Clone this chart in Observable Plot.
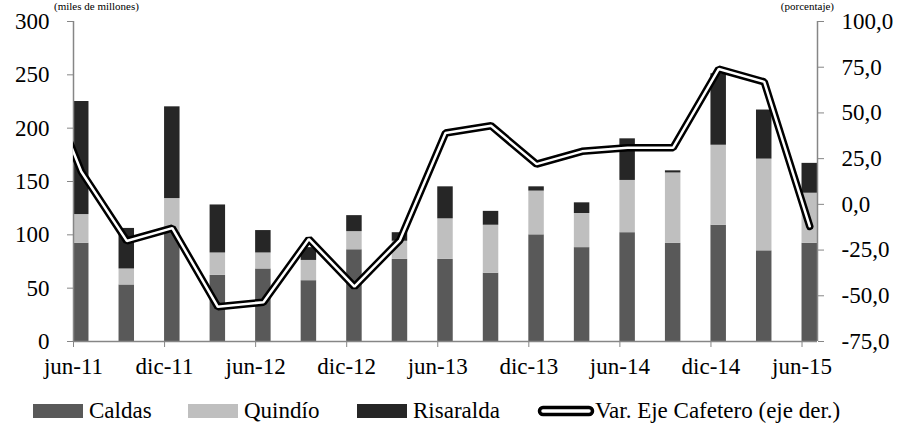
<!DOCTYPE html>
<html><head><meta charset="utf-8">
<script src="https://cdn.jsdelivr.net/npm/d3@7"></script>
<script src="https://cdn.jsdelivr.net/npm/@observablehq/plot@0.6"></script>
<style>
body{margin:0;background:#fff;font-family:"Liberation Serif","Times New Roman",Times,"DejaVu Serif",serif;}
#wrap{position:relative;width:906px;height:431px;overflow:hidden;background:#fff;}
#chart svg{display:block;}
#chart svg text{font-family:"Liberation Serif","Times New Roman",Times,"DejaVu Serif",serif;}
.cut{position:absolute;top:0px;font-size:11px;line-height:12px;color:#000;white-space:nowrap;}
#legend{position:absolute;left:0;top:396px;width:906px;height:30px;font-size:23px;color:#000;}
.li{position:absolute;top:0;height:30px;display:flex;align-items:center;white-space:nowrap;}
.sw{display:inline-block;width:50px;height:14px;margin-right:6px;}
</style></head><body>
<div id="wrap">
  <div id="chart"></div>
  <div class="cut" style="left:54px">(miles de millones)</div>
  <div class="cut" style="right:72px">(porcentaje)</div>
  <div id="legend"></div>
</div>
<script>
const periods = ["jun-11","sep-11","dic-11","mar-12","jun-12","sep-12","dic-12","mar-13","jun-13","sep-13","dic-13","mar-14","jun-14","sep-14","dic-14","mar-15","jun-15"];
const caldas    = [92, 53, 102, 62, 68, 57, 86, 77, 77, 64, 100, 88, 102, 92, 109, 85, 92];
const quindio   = [27, 15, 32, 21, 15, 19, 17, 17, 38, 45, 41, 32, 49, 66, 75, 86, 47];
const risaralda = [106, 38, 86, 45, 21, 12, 15, 8, 30, 13, 4, 10, 39, 2, 67, 46, 28];
const varEje    = [18, -20, -13, -56, -53.5, -19, -45, -19.5, 39, 43, 22, 29, 31, 31, 74, 67, -12];
const varEjePrev = 80; // mar-11, falls outside the plotted range
const xTickLabels = ["jun-11","dic-11","jun-12","dic-12","jun-13","dic-13","jun-14","dic-14","jun-15"];
const leftTicks = [0, 50, 100, 150, 200, 250, 300];
const rightTicks = [-75, -50, -25, 0, 25, 50, 75, 100];
const seriesNames = ["Caldas", "Quindío", "Risaralda"];
const seriesColors = ["#595959", "#bfbfbf", "#262626"];
const lineName = "Var. Eje Cafetero (eje der.)";

const barW = 0.34;
const toLeft = v => (v + 75) * 300 / 175;

const rects = [];
periods.forEach((p, i) => {
  let base = 0;
  [caldas, quindio, risaralda].forEach((arr, k) => {
    rects.push({i, s: seriesNames[k], y1: base, y2: base + arr[i]});
    base += arr[i];
  });
});
const linePts = [{i: -1, v: varEjePrev}, ...varEje.map((v, i) => ({i, v}))];
const xTicks = xTickLabels.map(l => periods.indexOf(l));

const fs = 23;
const ff = '"Liberation Serif", "Times New Roman", Times, "DejaVu Serif", serif';
const chart = Plot.plot({
  width: 906, height: 388,
  marginLeft: 73, marginRight: 89, marginTop: 21, marginBottom: 47,
  style: {fontFamily: ff, fontSize: fs + "px", background: "#fff", color: "#000"},
  x: {type: "linear", domain: [0, periods.length - 1 + barW], axis: null},
  y: {domain: [0, 300], axis: null},
  color: {domain: seriesNames, range: seriesColors},
  marks: [
    Plot.rect(rects, {x1: d => d.i, x2: d => d.i + barW, y1: "y1", y2: "y2", fill: "s"}),
    Plot.ruleY([0], {stroke: "#868686", strokeWidth: 1.5}),
    Plot.ruleX([0], {stroke: "#868686", strokeWidth: 1.5}),
    Plot.ruleX([periods.length - 1 + barW], {stroke: "#868686", strokeWidth: 1.5}),
    Plot.axisY(leftTicks, {anchor: "left", tickSize: 6, tickPadding: 18, stroke: "#868686", fill: "#000", fontSize: fs, tickFormat: d => String(d)}),
    Plot.axisY(rightTicks.map(toLeft), {anchor: "right", tickSize: 6, tickPadding: 18, stroke: "#868686", fill: "#000", fontSize: fs,
      tickFormat: d => (d * 175 / 300 - 75).toFixed(1).replace(".", ",")}),
    Plot.axisX(xTicks, {anchor: "bottom", tickSize: 6, tickPadding: 10, stroke: "#868686", fill: "#000", fontSize: fs,
      tickFormat: i => periods[i]}),
    Plot.line(linePts, {x: d => d.i + barW / 2, y: d => toLeft(d.v), stroke: "#000", strokeWidth: 7.5, strokeLinejoin: "miter", clip: true}),
    Plot.line(linePts, {x: d => d.i + barW / 2, y: d => toLeft(d.v), stroke: "#fff", strokeWidth: 2.5, strokeLinejoin: "miter", clip: true})
  ]
});
document.getElementById("chart").appendChild(chart);

const legend = document.getElementById("legend");
const pos = [33, 188, 357];
seriesNames.forEach((n, k) => {
  const d = document.createElement("div");
  d.className = "li"; d.style.left = pos[k] + "px";
  d.innerHTML = `<span class="sw" style="background:${seriesColors[k]}"></span>${n}`;
  legend.appendChild(d);
});
const ld = document.createElement("div");
ld.className = "li"; ld.style.left = "537px";
ld.innerHTML = `<svg width="58" height="14" style="margin-right:0"><rect x="2.5" y="3.5" width="53" height="7" rx="3.5" fill="#fff" stroke="#000" stroke-width="3.5"/></svg>${lineName}`;
legend.appendChild(ld);
</script>
</body></html>
